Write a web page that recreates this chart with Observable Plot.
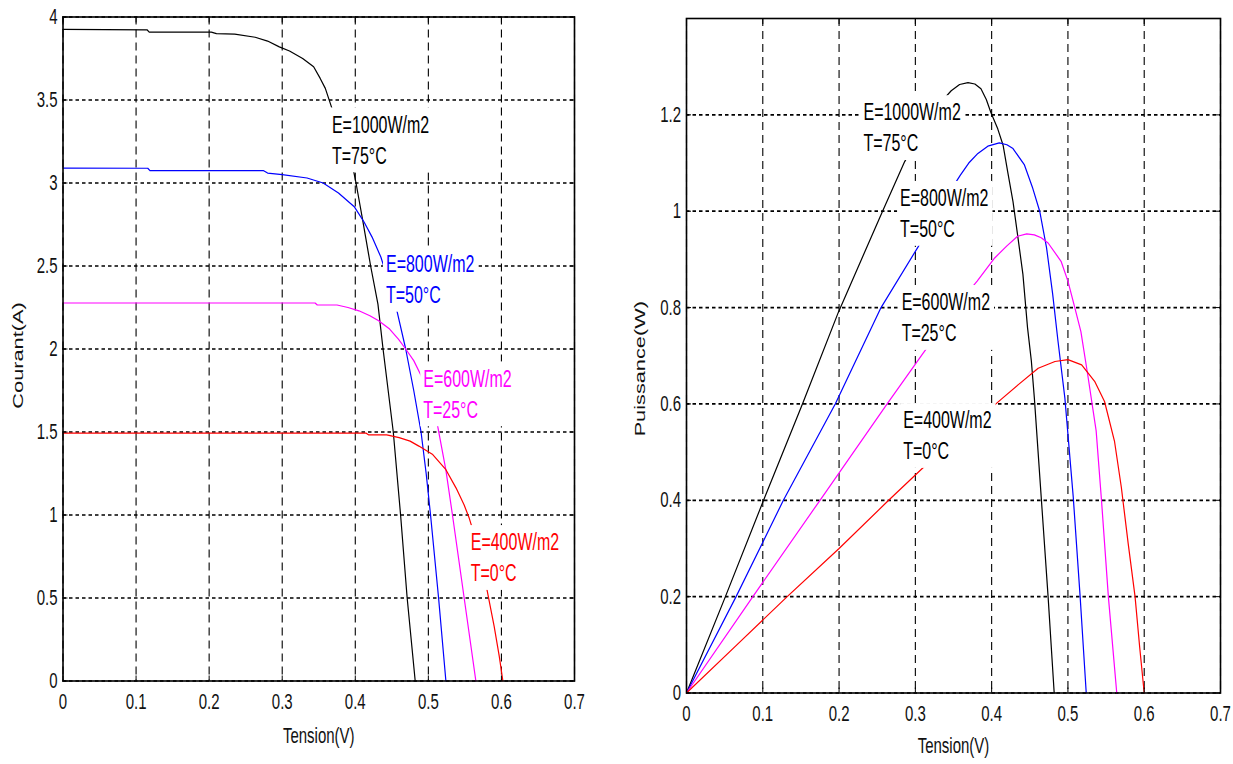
<!DOCTYPE html>
<html>
<head>
<meta charset="utf-8">
<script src="https://cdn.jsdelivr.net/npm/d3@7"></script>
<script src="https://cdn.jsdelivr.net/npm/@observablehq/plot@0.6"></script>
<style>
html, body { margin: 0; padding: 0; background: #fff; }
#wrap { display: flex; width: 1233px; height: 764px; overflow: hidden; background: #fff; }
#wrap svg { display: block; flex: none; }
</style>
</head>
<body>
<div id="wrap"></div>
<script>
// ---------- tick values ----------
const voltageTicks = [0, 0.1, 0.2, 0.3, 0.4, 0.5, 0.6, 0.7];
const currentTicks = [0, 0.5, 1, 1.5, 2, 2.5, 3, 3.5, 4];
const powerTicks = [0, 0.2, 0.4, 0.6, 0.8, 1, 1.2];

// ---------- series ----------
const seriesNames = ["E=1000W/m2\nT=75°C", "E=800W/m2\nT=50°C", "E=600W/m2\nT=25°C", "E=400W/m2\nT=0°C"];
const seriesColors = ["#000000", "#0000ff", "#ff00ff", "#ff0000"];

// I-V curves: [tension (V), courant (A)]
const iv1000 = [[0,3.925],[0.115,3.923],[0.118,3.909],[0.203,3.909],[0.21,3.90],[0.235,3.897],[0.263,3.878],[0.28,3.855],[0.296,3.82],[0.31,3.795],[0.328,3.75],[0.343,3.70],[0.352,3.63],[0.359,3.57],[0.365,3.49],[0.38,3.29],[0.398,3.065],[0.401,3.0],[0.41,2.78],[0.421,2.5],[0.431,2.27],[0.438,2.0],[0.452,1.5],[0.462,1.0],[0.471,0.5],[0.482,0]];
const iv800 = [[0,3.09],[0.116,3.089],[0.119,3.075],[0.274,3.075],[0.28,3.06],[0.30,3.05],[0.334,3.03],[0.356,3.0],[0.377,2.94],[0.399,2.855],[0.412,2.765],[0.423,2.674],[0.435,2.554],[0.446,2.4],[0.457,2.23],[0.469,2.0],[0.480,1.75],[0.490,1.5],[0.497,1.25],[0.503,1.0],[0.514,0.5],[0.524,0]];
const iv600 = [[0,2.277],[0.345,2.277],[0.348,2.265],[0.375,2.265],[0.39,2.25],[0.405,2.23],[0.42,2.20],[0.432,2.17],[0.447,2.12],[0.459,2.06],[0.469,2.0],[0.48,1.93],[0.490,1.84],[0.50,1.72],[0.513,1.53],[0.524,1.27],[0.533,1.0],[0.541,0.75],[0.549,0.5],[0.557,0.25],[0.565,0]];
const iv400 = [[0,1.493],[0.415,1.493],[0.418,1.483],[0.443,1.483],[0.46,1.466],[0.475,1.445],[0.487,1.415],[0.506,1.364],[0.524,1.273],[0.538,1.162],[0.549,1.06],[0.556,0.98],[0.565,0.85],[0.573,0.70],[0.580,0.555],[0.59,0.33],[0.597,0.15],[0.602,0]];

// P-V curves: [tension (V), puissance (W)]
const pv1000 = [[0,0],[0.051,0.2],[0.101,0.4],[0.152,0.6],[0.199,0.79],[0.257,1.0],[0.286,1.103],[0.31,1.17],[0.33,1.22],[0.347,1.25],[0.358,1.263],[0.369,1.267],[0.378,1.264],[0.386,1.254],[0.393,1.232],[0.399,1.205],[0.408,1.171],[0.415,1.137],[0.421,1.082],[0.428,1.02],[0.434,0.951],[0.441,0.869],[0.447,0.759],[0.452,0.69],[0.456,0.612],[0.465,0.406],[0.474,0.2],[0.482,0]];
const pv800 = [[0,0],[0.065,0.2],[0.127,0.4],[0.195,0.6],[0.255,0.8],[0.304,0.927],[0.33,1.0],[0.345,1.04],[0.359,1.075],[0.37,1.1],[0.382,1.12],[0.395,1.135],[0.41,1.142],[0.42,1.138],[0.428,1.13],[0.443,1.096],[0.454,1.047],[0.463,1.0],[0.472,0.924],[0.48,0.828],[0.487,0.73],[0.496,0.612],[0.507,0.406],[0.516,0.2],[0.524,0]];
const pv600 = [[0,0],[0.087,0.2],[0.175,0.4],[0.263,0.6],[0.31,0.705],[0.34,0.77],[0.36,0.815],[0.381,0.855],[0.404,0.903],[0.42,0.928],[0.434,0.948],[0.446,0.953],[0.456,0.951],[0.465,0.945],[0.474,0.934],[0.491,0.896],[0.50,0.855],[0.509,0.8],[0.517,0.75],[0.526,0.66],[0.537,0.544],[0.544,0.4],[0.553,0.2],[0.564,0]];
const pv400 = [[0,0],[0.066,0.1],[0.132,0.2],[0.2,0.3],[0.265,0.4],[0.309,0.466],[0.35,0.525],[0.38,0.565],[0.412,0.609],[0.435,0.64],[0.461,0.674],[0.483,0.688],[0.5,0.692],[0.518,0.681],[0.535,0.647],[0.548,0.605],[0.561,0.523],[0.57,0.427],[0.579,0.31],[0.588,0.2],[0.594,0.096],[0.6,0]];

// label anchors (left edge, middle of the two lines)
const ivLabelX = [0.368, 0.442, 0.493, 0.558];
const ivLabelY = [3.27, 2.43, 1.74, 0.754];
const pvLabelX = [0.232, 0.280, 0.282, 0.284];
const pvLabelY = [1.177, 0.999, 0.783, 0.538];

// ---------- rendering ----------
const FONT = "'Liberation Sans', Arial, Helvetica, sans-serif";
const K = 1.5; // vertical stretch of the original raster text

function makePanel(cfg) {
  const labels = seriesNames.map((t, i) => ({
    text: t, x: cfg.labelX[i], y: cfg.labelY[i], color: cfg.labelColors[i]
  }));
  return Plot.plot({
    width: cfg.width,
    height: 764,
    marginLeft: cfg.mL, marginRight: cfg.mR, marginTop: cfg.mT, marginBottom: cfg.mB,
    style: { fontFamily: FONT, fontSize: "15px", background: "white", color: "black" },
    x: { domain: [0, 0.7] },
    y: { domain: cfg.yDomain },
    marks: [
      Plot.gridX(voltageTicks, { stroke: "black", strokeOpacity: 1, strokeWidth: 1.1, strokeDasharray: "8,5" }),
      Plot.gridY(cfg.yTicks, { stroke: "black", strokeOpacity: 1, strokeWidth: 1.7, strokeDasharray: "3.5,3" }),
      ...cfg.series.map((s, i) => Plot.line(s, {
        x: d => d[0], y: d => d[1], stroke: seriesColors[i], strokeWidth: 1.2
      })),
      Plot.frame({ stroke: "black", strokeWidth: 1.6 }),
      Plot.axisX({ ticks: voltageTicks, anchor: "bottom", tickSize: -5, fill: "none", label: null }),
      Plot.axisX({ ticks: voltageTicks, anchor: "top", tickSize: -5, fill: "none", label: null }),
      Plot.axisY({ ticks: cfg.yTicks, anchor: "left", tickSize: -5, fill: "none", label: null }),
      Plot.axisY({ ticks: cfg.yTicks, anchor: "right", tickSize: -5, fill: "none", label: null }),
      Plot.axisX({ ticks: voltageTicks, anchor: "bottom", tickSize: 0, tickPadding: 12.5,
        tickFormat: d => String(d), fontSize: 15, label: null, fill: "#111" }),
      Plot.axisY({ ticks: cfg.yTicks, anchor: "left", tickSize: 0, tickPadding: 5.5,
        tickFormat: d => String(d), fontSize: 15, label: null, fill: "#111" }),
      Plot.text([cfg.xTitle], { text: d => d, frameAnchor: "bottom", dy: cfg.xTitleDy,
        fontSize: 15, textAnchor: "middle", lineAnchor: "middle", fill: "#111" }),
      Plot.text([cfg.yTitle], { text: d => d, frameAnchor: "left", rotate: -90,
        textAnchor: "middle", lineAnchor: "middle",
        dx: cfg.yTitleDx, dy: cfg.yTitleDy, fontSize: 14.5, fill: "#111" }),
      Plot.text(labels, { x: "x", y: "y", text: "text", fill: "color",
        textAnchor: "start", lineAnchor: "middle", lineHeight: 1.29, fontSize: 16 })
    ]
  });
}

// the original figure's raster text is stretched vertically; reproduce that
function stretchText(svg) {
  for (const t of svg.querySelectorAll("text")) {
    let tr = t.getAttribute("transform");
    if (tr == null) {
      const x = t.getAttribute("x") || 0, y = t.getAttribute("y") || 0;
      tr = `translate(${x},${y})`;
      t.removeAttribute("x"); t.removeAttribute("y");
    }
    t.setAttribute("transform", /rotate\(\s*-?90/.test(tr) ? `${tr} scale(${K},1)` : `${tr} scale(1,${K})`);
  }
}

// white background boxes behind the curve annotations (as in the original figure)
function labelBoxes(svg) {
  for (const t of svg.querySelectorAll("text")) {
    if (!t.textContent.startsWith("E=")) continue;
    const b = t.getBBox();
    const r = document.createElementNS("http://www.w3.org/2000/svg", "rect");
    r.setAttribute("x", b.x - 3);
    r.setAttribute("y", b.y - 4 / K);
    r.setAttribute("width", b.width + 7);
    r.setAttribute("height", b.height + 8 / K);
    r.setAttribute("fill", "white");
    r.setAttribute("stroke", "none");
    r.setAttribute("transform", t.getAttribute("transform"));
    t.parentNode.insertBefore(r, t);
  }
}

const wrap = document.getElementById("wrap");
const left = makePanel({
  width: 616, mL: 62.5, mR: 42, mT: 16.5, mB: 83.5,
  yDomain: [0, 4], yTicks: currentTicks,
  series: [iv1000, iv800, iv600, iv400],
  labelX: ivLabelX, labelY: ivLabelY, labelColors: seriesColors,
  xTitle: "Tension(V)", xTitleDy: 54.5,
  yTitle: "Courant(A)", yTitleDx: -44.5, yTitleDy: 6.5
});
const right = makePanel({
  width: 617, mL: 70, mR: 13, mT: 18, mB: 71.5,
  yDomain: [0, 1.4], yTicks: powerTicks,
  series: [pv1000, pv800, pv600, pv400],
  labelX: pvLabelX, labelY: pvLabelY, labelColors: ["#000", "#000", "#000", "#000"],
  xTitle: "Tension(V)", xTitleDy: 52.5,
  yTitle: "Puissance(W)", yTitleDx: -46, yTitleDy: 13
});
wrap.appendChild(left);
wrap.appendChild(right);
for (const svg of [left, right]) { stretchText(svg); labelBoxes(svg); }
</script>
</body>
</html>
